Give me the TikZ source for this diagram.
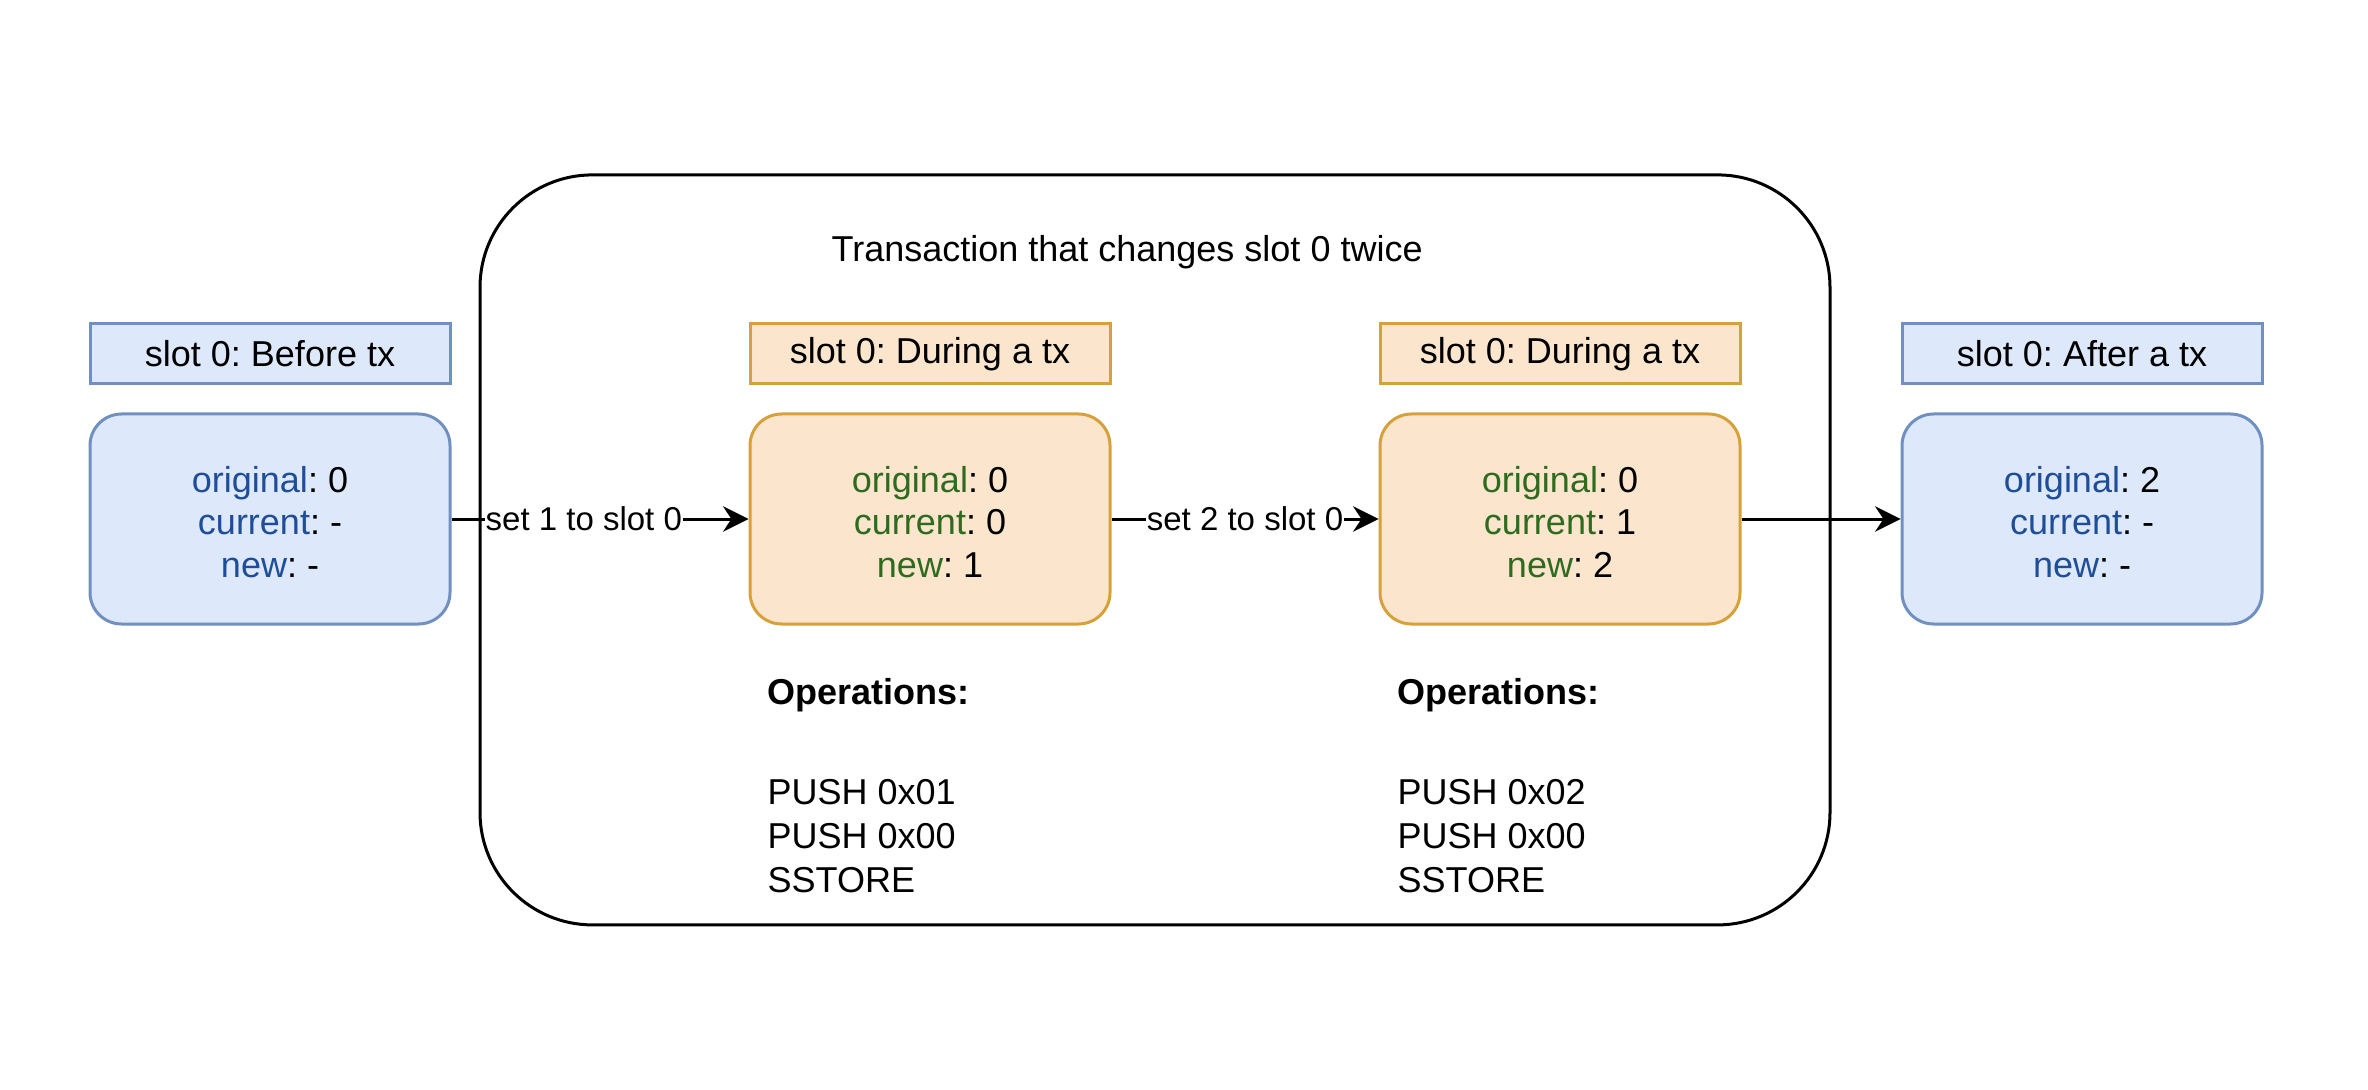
\documentclass[tikz,border=0pt]{standalone}
\usepackage{fontspec}
\setmainfont{Liberation Sans}
\usetikzlibrary{arrows.meta}
\frenchspacing
\definecolor{bfill}{HTML}{DDE8FA}
\definecolor{bdraw}{HTML}{7090C0}
\definecolor{ofill}{HTML}{FBE5CD}
\definecolor{odraw}{HTML}{D6A03A}
\definecolor{btext}{HTML}{1F4E99}
\definecolor{gtext}{HTML}{2E6B1E}
\newcommand{\firststrut}{\rule{0pt}{10.6pt}}
\tikzset{
  titlebox/.style={draw, line width=1pt, minimum width=120pt, minimum height=20pt, inner sep=0pt, font=\fontsize{12}{14}\selectfont},
  statebox/.style={draw, line width=1pt, rounded corners=10.5pt, minimum width=120pt, minimum height=70pt, inner sep=0pt, align=center, font=\fontsize{12}{14.2}\selectfont},
  bluestyle/.style={fill=bfill, draw=bdraw},
  orangestyle/.style={fill=ofill, draw=odraw},
  conn/.style={line width=1pt, -{Stealth[length=8.5pt, width=8.5pt, inset=2.8pt]}},
  edgelabel/.style={fill=white, inner sep=0.3pt, font=\fontsize{11}{13}\selectfont},
  optext/.style={anchor=west, align=left, inner sep=0pt, font=\fontsize{12}{14.6}\selectfont},
}
\begin{document}
\begin{tikzpicture}[x=1pt, y=-1pt]
\useasboundingbox (0,0) rectangle (789.33,363.33);
\draw[line width=1pt, rounded corners=37.5pt] (160,58.3) rectangle (610,308.3);
\node[inner sep=0pt, font=\fontsize{12}{14}\selectfont] (txtitle) at (375.7,84) {Transaction that changes slot 0 twice};

\node[titlebox, bluestyle] (t0) at (90,118) {slot 0: Before tx};
\node[statebox, bluestyle] (s0) at (90,173) {\firststrut\textcolor{btext}{original}: 0\\\textcolor{btext}{current}: -\\\textcolor{btext}{new}: -};

\node[titlebox, orangestyle] (t1) at (310,118) {slot 0: During a tx};
\node[statebox, orangestyle] (s1) at (310,173) {\firststrut\textcolor{gtext}{original}: 0\\\textcolor{gtext}{current}: 0\\\textcolor{gtext}{new}: 1};

\node[titlebox, orangestyle] (t2) at (520,118) {slot 0: During a tx};
\node[statebox, orangestyle] (s2) at (520,173) {\firststrut\textcolor{gtext}{original}: 0\\\textcolor{gtext}{current}: 1\\\textcolor{gtext}{new}: 2};

\node[titlebox, bluestyle] (t3) at (694,118) {slot 0: After a tx};
\node[statebox, bluestyle] (s3) at (694,173) {\firststrut\textcolor{btext}{original}: 2\\\textcolor{btext}{current}: -\\\textcolor{btext}{new}: -};

\node[optext, font=\bfseries\fontsize{12}{14.6}\selectfont] (op1h) at (255.7,231.7) {Operations:};
\node[optext] (op1b) at (255.7,278.6) {PUSH 0x01\\PUSH 0x00\\SSTORE};
\node[optext, font=\bfseries\fontsize{12}{14.6}\selectfont] (op2h) at (465.7,231.7) {Operations:};
\node[optext] (op2b) at (465.7,278.6) {PUSH 0x02\\PUSH 0x00\\SSTORE};

\draw[conn] (s0) -- node[edgelabel, xshift=-5.4pt] (l1) {set 1 to slot 0} (s1);
\draw[conn] (s1) -- node[edgelabel] (l2) {set 2 to slot 0} (s2);
\draw[conn] (s2) -- (s3);
\end{tikzpicture}
\end{document}
